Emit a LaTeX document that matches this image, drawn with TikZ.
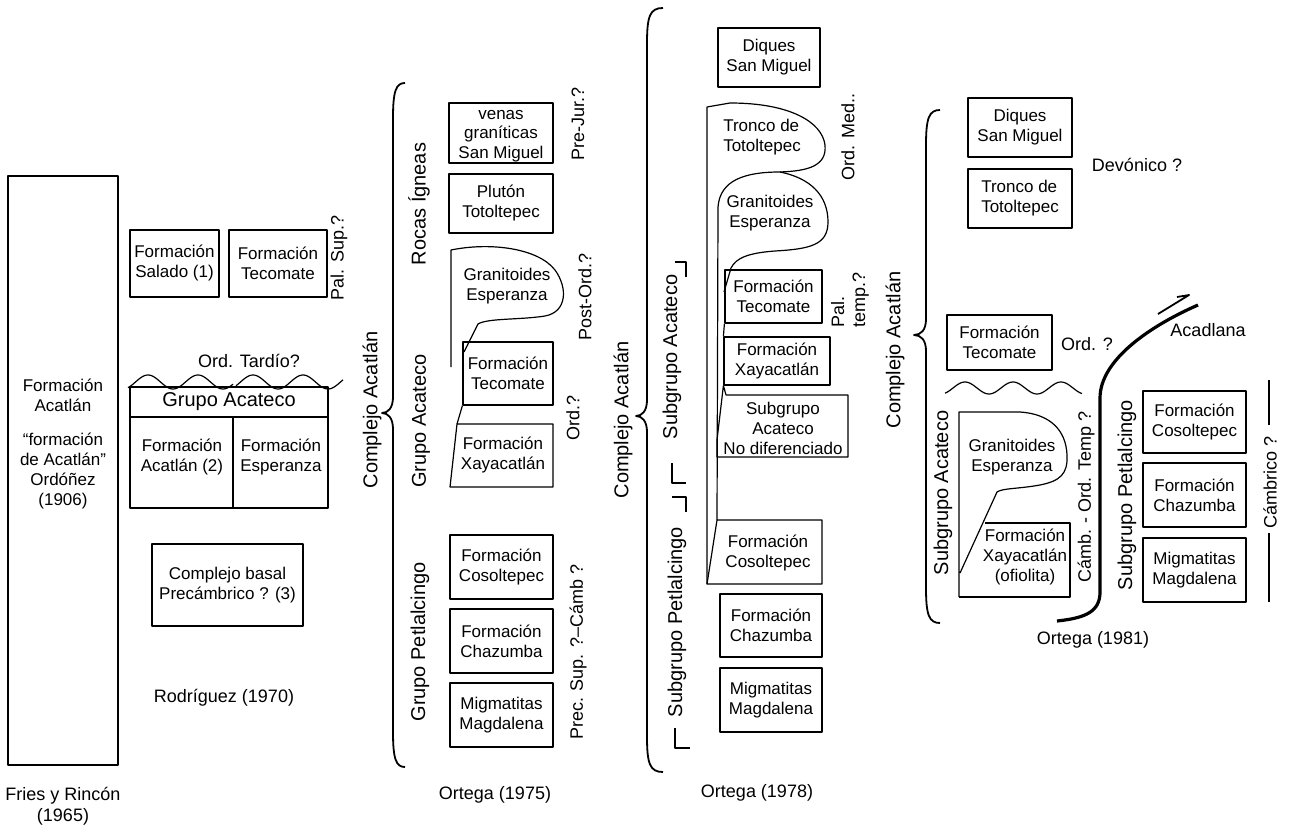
\documentclass[tikz,border=0pt]{standalone}
\usepackage{fontspec}
\setmainfont{Liberation Sans}
\usetikzlibrary{arrows.meta}
\newcommand\fs{\fontsize{8.5}{10}\selectfont}
\newcommand\fm{\fontsize{9}{10.5}\selectfont}
\newcommand\fl{\fontsize{10}{12}\selectfont}
% box node from pixel corners
\newcommand\bx[6]{\node[box, minimum width={(#4-#2)*0.5pt}, minimum height={(#5-#3)*0.5pt}] (#1) at ({(#2+#4)/2},{(#3+#5)/2}) {#6};}
% curly brace: xtop ytop xstem xtip ytip ybot
\newcommand\cbrace[6]{\draw[brc] (#1,#2) .. controls ({#3+3},#2) and (#3,{#2+8}) .. (#3,{#2+35}) -- (#3,{#5-16}) .. controls (#3,{#5-5}) and ({#3-5},#5) .. (#4,#5) .. controls ({#3-5},#5) and (#3,{#5+5}) .. (#3,{#5+16}) -- (#3,{#6-35}) .. controls (#3,{#6-8}) and ({#3+3},#6) .. (#1,#6);}
\begin{document}
\begin{tikzpicture}[x=0.5pt,y=-0.5pt, line join=round,
  box/.style={draw, line width=0.6pt, inner sep=0pt, align=center, font=\fs},
  txt/.style={inner sep=0pt, align=center, font=\fs},
  lab/.style={inner sep=0pt, align=center, font=\fm},
  grp/.style={inner sep=0pt, align=center, font=\fl},
  rlab/.style={lab, rotate=90},
  rgrp/.style={grp, rotate=90},
  ln/.style={line width=0.6pt},
  brc/.style={line width=0.9pt},
  fault/.style={line width=1.6pt},
]
\useasboundingbox (0,0) rectangle (1293,828);
\fill[white] (0,0) rectangle (1293,828);

% ---------------- Fries y Rincon (1965)
\bx{fries}{8}{176}{118}{765}{}
\node[txt] (fa) at (63,395) {Formación\\Acatlán};
\node[txt] (fo) at (63,471) {“formación\\de Acatlán”\\Ordóñez\\(1906)};
\node[lab] (frc) at (63,806) {Fries y Rincón\\(1965)};

% ---------------- Rodriguez (1970)
\bx{sal}{130}{230}{219}{297}{Formación\\Salado (1)}
\bx{tec70}{229}{230}{327}{297}{Formación\\Tecomate}
\node[rlab] (pal70) at (339,258) {Pal. Sup.?};
\node[lab] (ot70) at (249,361) {Ord. Tardío?};
\draw[ln] plot[domain=128:233, samples=70] (\x,{382-7*cos((\x-148)*7.2)});
\draw[ln] plot[domain=236:343, samples=70] (\x,{382-7*cos((\x-253)*7.2)});
\bx{ga70}{130}{387}{328}{417}{\fl Grupo Acateco}
\bx{fac70}{130}{417}{233}{508}{}
\bx{fes70}{233}{417}{328}{508}{}
\node[txt] (tfac70) at (182,457) {Formación\\Acatlán (2)};
\node[txt] (tfes70) at (281,457) {Formación\\Esperanza};
\bx{cb70}{152}{544}{303}{626}{Complejo basal\\Precámbrico ? (3)}
\node[lab] (rod) at (224,698) {Rodríguez (1970)};

% ---------------- Ortega (1975)
\cbrace{405}{83}{393}{382}{413}{767}
\node[rgrp] (ca75) at (372,410) {Complejo Acatlán};
\node[rgrp] (ri75) at (419,204) {Rocas Ígneas};
\node[rgrp] (ga75) at (421,421) {Grupo Acateco};
\node[rgrp] (gp75) at (420,642) {Grupo Petlalcingo};
\bx{ven75}{449}{103}{553}{163}{}
\node[txt, font=\fontsize{8.5}{9.6}\selectfont] (tven75) at (501,136) {venas\\graníticas\\San Miguel};
\bx{plu75}{449}{174}{553}{233}{Plutón\\Totoltepec}
\node[rlab] (pj75) at (578,124) {Pre-Jur.?};
\node[rlab] (po75) at (585,297) {Post-Ord.?};
\node[rlab] (or75) at (573,418) {Ord.?};
\node[rlab] (ps75) at (578,652) {Prec. Sup. ?--Cámb ?};
\draw[ln] (451,367) -- (451,250) .. controls (490,242) and (538,248) .. (555,270) .. controls (568,288) and (567,312) .. (545,316) .. controls (520,320) and (488,318) .. (478,324) -- (464,352);
\node[txt] (gr75) at (507,286) {Granitoides\\Esperanza};
\bx{tec75}{463}{342}{553}{405}{Formación\\Tecomate}
\node[txt] (xa75) at (503,455) {Formación\\Xayacatlán};
\draw[ln] (457,424) -- (553,424) -- (553,487) -- (450,487) -- cycle;
\draw[ln] (tec75.south west) -- (457,424);
\bx{cos75}{450}{535}{553}{599}{Formación\\Cosoltepec}
\bx{cha75}{450}{609}{553}{673}{Formación\\Chazumba}
\bx{mag75}{450}{683}{553}{747}{Migmatitas\\Magdalena}
\node[lab] (o75) at (495,795) {Ortega (1975)};

% ---------------- Ortega (1978)
\cbrace{663}{8}{647}{636}{416}{772}
\node[rgrp] (ca78) at (623,420) {Complejo Acatlán};
\node[rgrp] (sa78) at (672,357) {Subgrupo Acateco};
\node[rgrp] (sp78) at (677,622) {Subgrupo Petlalcingo};
\draw[ln] (675,262) -- (686,262) -- (686,277);
\draw[ln] (672,463) -- (672,483) -- (686,483);
\draw[ln] (672,497) -- (686,497) -- (686,512);
\draw[ln] (675,728) -- (675,748) -- (690,748);
\bx{diq78}{718}{28}{820}{87}{Diques\\San Miguel}
% Tronco + Granitoides outline
\draw[ln] (707,584) -- (707,107) -- (730,103) .. controls (790,103) and (822,122) .. (825,145) .. controls (827,166) and (808,171) .. (780,172);
\draw[ln] (717,520) -- (718,207) .. controls (720,180) and (745,172) .. (780,172) .. controls (810,178) and (828,195) .. (828,222) .. controls (828,245) and (810,249) .. (775,251) .. controls (748,253) and (736,258) .. (731,268) -- (724,292);
\node[txt, align=left] (tro78) at (762,137) {Tronco de\\Totoltepec};
\node[txt] (gr78) at (770,213) {Granitoides\\Esperanza};
\bx{tec78}{725}{270}{822}{323}{Formación\\Tecomate}
\bx{xa78}{724}{337}{830}{385}{Formación\\Xayacatlán}
\draw[ln] (tec78.south west) -- (xa78.north west);
\node[txt] (nd78) at (783,428) {Subgrupo\\Acateco\\No diferenciado};
\draw[ln] (xa78.south west) -- (726,395) -- (848,395) -- (848,457) -- (717,457) -- (717,440) -- cycle;
\node[txt] (cos78) at (768,553) {Formación\\Cosoltepec};
\draw[ln] (717,520) -- (822,520) -- (822,584) -- (707,584) -- cycle;
\bx{cha78}{720}{594}{822}{657}{Formación\\Chazumba}
\bx{mag78}{720}{668}{822}{732}{Migmatitas\\Magdalena}
\node[rlab] (om78) at (848,137) {Ord. Med..};
\node[rlab, align=left] (pt78) at (850,300) {Pal.\\temp.?};
\node[lab] (o78) at (757,793) {Ortega (1978)};

% ---------------- Ortega (1981)
\cbrace{940}{110}{926}{914}{335}{623}
\node[rgrp] (ca81) at (895,350) {Complejo Acatlán};
\bx{diq81}{968}{98}{1072}{157}{Diques\\San Miguel}
\bx{tro81}{968}{169}{1072}{228}{\begin{tabular}{@{}l@{}}Tronco de\\Totoltepec\end{tabular}}
\node[lab] (dev81) at (1137,165) {Devónico ?};
\bx{tec81}{947}{315}{1052}{370}{Formación\\Tecomate}
\node[lab] (ord81) at (1087,344) {Ord. ?};
\draw[ln] plot[domain=945:1082, samples=80] (\x,{388-6*cos((\x-965)*7.5)});
\node[rgrp] (sa81) at (943,493) {Subgrupo Acateco};
\draw[ln] (959,597) -- (959,412) -- (1020,412) .. controls (1050,414) and (1066,430) .. (1067,455) .. controls (1068,474) and (1060,481) .. (1040,485) .. controls (1018,489) and (1003,488) .. (997,492) -- (960,573);
\node[txt] (gr81) at (1012,457) {Granitoides\\Esperanza};
\draw[ln] (985,523) -- (1070,523) -- (1070,597) -- (959,597);
\node[txt] (xa81) at (1025,557) {Formación\\Xayacatlán\\(ofiolita)};
\node[rlab] (co81) at (1086,497) {Cámb. - Ord. Temp ?};
\coordinate (f1) at (1057,621);
\coordinate (f2) at (1198,305);
\draw[fault] (f1) .. controls (1085,618) and (1100,612) .. (1100,592) -- (1100,398) .. controls (1100,360) and (1150,326) .. (f2);
\coordinate (a1) at (1158,314);
\coordinate (a2) at (1189,295);
\draw[line width=0.9pt] (a1) -- (a2) -- (1177,297);
\node[lab] (aca81) at (1208,330) {Acadlana};
\node[rgrp] (sp81) at (1127,495) {Subgrupo Petlalcingo};
\bx{cos81}{1143}{391}{1246}{453}{Formación\\Cosoltepec}
\bx{cha81}{1143}{463}{1246}{527}{Formación\\Chazumba}
\bx{mag81}{1143}{538}{1246}{602}{Migmatitas\\Magdalena}
\node[rlab] (cam81) at (1270,482) {Cámbrico ?};
\coordinate (c1) at (1269,380);
\coordinate (c2) at (1269,425);
\coordinate (c3) at (1269,533);
\coordinate (c4) at (1269,602);
\draw[ln] (c1) -- (c2);
\draw[ln] (c3) -- (c4);
\node[lab] (o81) at (1093,640) {Ortega (1981)};
\end{tikzpicture}
\end{document}
